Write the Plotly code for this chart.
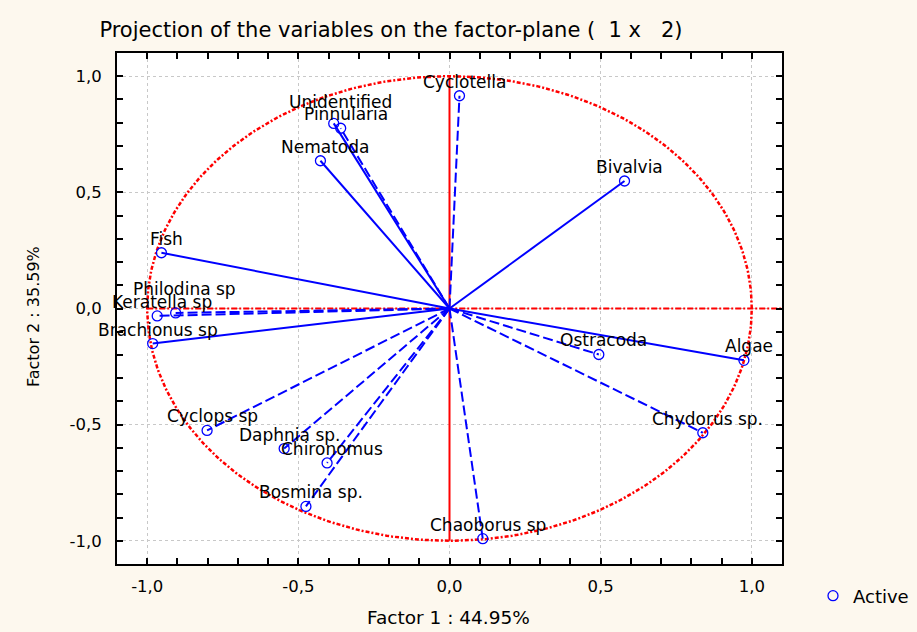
import plotly.graph_objects as go
import numpy as np

# ---- data ----
variables = ["Cyclotella", "Bivalvia", "Unidentified", "Pinnularia", "Nematoda", "Fish",
             "Philodina sp", "Keratella sp", "Brachionus sp", "Cyclops sp", "Daphnia sp.",
             "Chironomus", "Bosmina sp.", "Chaoborus sp", "Chydorus sp.", "Ostracoda", "Algae"]
factor1 = [0.033, 0.579, -0.383, -0.360, -0.427, -0.953,
           -0.906, -0.967, -0.982, -0.802, -0.547,
           -0.405, -0.475, 0.110, 0.838, 0.494, 0.974]
factor2 = [0.916, 0.549, 0.797, 0.776, 0.636, 0.240,
           -0.019, -0.032, -0.151, -0.525, -0.603,
           -0.665, -0.852, -0.991, -0.535, -0.198, -0.223]
tick_vals = [-1.0, -0.5, 0.0, 0.5, 1.0]
tick_text = ["-1,0", "-0,5", "0,0", "0,5", "1,0"]
title_text = "Projection of the variables on the factor-plane (  1 x   2)"
x_title = "Factor 1 : 44.95%"
y_title = "Factor 2 : 35.59%"

# ---- styles ----
dashed = {"Cyclotella", "Pinnularia", "Philodina sp", "Keratella sp", "Cyclops sp",
          "Daphnia sp.", "Chironomus", "Bosmina sp.", "Chaoborus sp", "Chydorus sp.", "Ostracoda"}
label_shift = {"Philodina sp": (9, 24), "Unidentified": (7, 21)}
BLUE = "#0000ff"
RED = "#ff0000"
FONT = "DejaVu Sans, Verdana, sans-serif"
W, H = 917, 632
L, R, T, B = 117, 135, 53, 68
PW, PH = W - L - R, H - T - B


def px_to_paper(px, py):
    return (px - L) / PW, (H - B - py) / PH


fig = go.Figure()

# red unit circle
theta = np.linspace(0, 2 * np.pi, 361)
fig.add_trace(go.Scatter(x=np.cos(theta), y=np.sin(theta), mode="lines",
                         line=dict(color=RED, width=2.5, dash="4px,2px,2px,2px"),
                         showlegend=False, hoverinfo="skip"))
# red axes through origin
fig.add_trace(go.Scatter(x=[-1.0, 1.1], y=[0, 0], mode="lines",
                         line=dict(color=RED, width=2, dash="6px,2px,2px,2px"),
                         showlegend=False, hoverinfo="skip"))
fig.add_trace(go.Scatter(x=[0, 0], y=[-1.0, 1.0], mode="lines",
                         line=dict(color=RED, width=2),
                         showlegend=False, hoverinfo="skip"))

# vectors
for name, fx, fy in zip(variables, factor1, factor2):
    fig.add_trace(go.Scatter(x=[0, fx], y=[0, fy], mode="lines",
                             line=dict(color=BLUE, width=2,
                                       dash="10px,4px" if name in dashed else "solid"),
                             showlegend=False, hoverinfo="skip"))

# points
fig.add_trace(go.Scatter(x=factor1, y=factor2, mode="markers", name="Active",
                         marker=dict(symbol="circle-open", size=10, color=BLUE,
                                     line=dict(width=1.3, color=BLUE)),
                         text=variables, hoverinfo="text"))

annotations = []
for name, fx, fy in zip(variables, factor1, factor2):
    dx, dy = label_shift.get(name, (5, 14))
    annotations.append(dict(x=fx, y=fy, xref="x", yref="y", text=name, showarrow=False,
                            xshift=dx, yshift=dy, xanchor="center", yanchor="middle",
                            font=dict(family=FONT, size=17, color="black")))
xt_x, xt_y = px_to_paper(448, 617)
annotations.append(dict(x=xt_x, y=xt_y, xref="paper", yref="paper",
                        text=x_title, showarrow=False, xanchor="center", yanchor="middle",
                        font=dict(family=FONT, size=18.5, color="black")))
yt_x, yt_y = px_to_paper(33, 317)
annotations.append(dict(x=yt_x, y=yt_y, xref="paper", yref="paper",
                        text=y_title, showarrow=False, textangle=-90,
                        xanchor="center", yanchor="middle",
                        font=dict(family=FONT, size=16, color="black")))

axis_common = dict(range=[-1.1, 1.1], tickvals=tick_vals, ticktext=tick_text,
                   showline=True, linecolor="black", linewidth=2, mirror="allticks",
                   ticks="inside", ticklen=6, tickcolor="black", tickwidth=1.5,
                   showgrid=True, gridcolor="#c8c8c8", griddash="dot", gridwidth=1,
                   zeroline=False, automargin=False,
                   tickfont=dict(family=FONT, size=16.5, color="black"),
                   minor=dict(dtick=0.1, tick0=0, ticks="inside", ticklen=6,
                              tickcolor="black", tickwidth=1.5, showgrid=False))

fig.update_layout(
    template="none",
    width=W, height=H,
    margin=dict(l=L, r=R, t=T, b=B, pad=0, autoexpand=False),
    paper_bgcolor="#fdf8ee", plot_bgcolor="white",
    title=dict(text=title_text, x=391 / W, xanchor="center", xref="container",
               y=1 - 30 / H, yanchor="middle", yref="container",
               font=dict(family=FONT, size=21, color="black")),
    xaxis=dict(**axis_common, ticklabelstandoff=6),
    yaxis=dict(**axis_common, ticklabelstandoff=10),
    annotations=annotations,
    legend=dict(x=813 / W, y=1 - 596 / H, xref="container", yref="container",
                xanchor="left", yanchor="middle",
                bgcolor="rgba(0,0,0,0)", borderwidth=0,
                font=dict(family=FONT, size=18, color="black")),
    showlegend=True,
    hovermode="closest",
)

fig.write_html("out.html", config={"displayModeBar": False},
               post_script="document.body.style.margin='0';document.body.style.overflow='hidden';")
